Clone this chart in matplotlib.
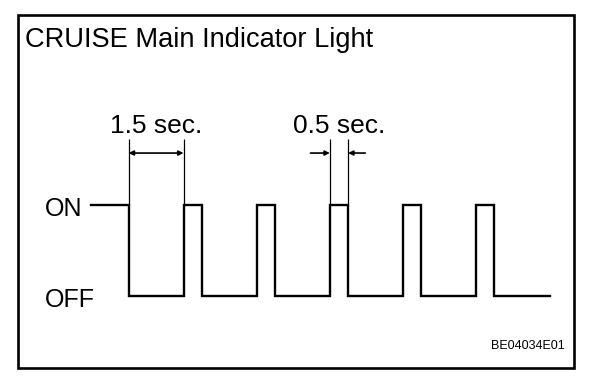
import matplotlib
matplotlib.use('Agg')
import matplotlib.pyplot as plt
from matplotlib.patches import Rectangle

# indicator light timing (seconds), t=0 is the first turn-off
tempos_troca = [0.0, 1.5, 2.0, 3.5, 4.0, 5.5, 6.0, 7.5, 8.0, 9.5, 10.0]
niveis = [1, 0, 1, 0, 1, 0, 1, 0, 1, 0, 1, 0]
t_inicio = -1.03
t_fim = 11.52

rotulos_nivel = ['OFF', 'ON']
titulo = 'CRUISE Main Indicator Light'
cota_longa = (0.0, 1.5, '1.5 sec.')
cota_curta = (5.5, 6.0, '0.5 sec.')
codigo = 'BE04034E01'

FONTE = ['Liberation Sans', 'DejaVu Sans']
W, H = 608, 382


def desenhar():
    plt.rcParams['font.family'] = FONTE
    fig = plt.figure(figsize=(W / 100, H / 100), dpi=100)

    # moldura
    fig.patches.append(Rectangle(
        (17.5 / W, (H - 368) / H), (573.5 - 17.5) / W, (368 - 14.5) / H,
        transform=fig.transFigure, fill=False, ec='black', lw=1.9
    ))

    fig.text(25 / W, (H - 47) / H, titulo, fontsize=19.6, va='baseline', ha='left')
    fig.text(565 / W, (H - 349) / H, codigo, fontsize=9, va='baseline', ha='right')

    ax = fig.add_axes([91 / W, (H - 296) / H, (550 - 91) / W, (296 - 205) / H])
    ax.set_xlim(t_inicio, t_fim)
    ax.set_ylim(0, 1)
    ax.axis('off')

    xs = [t_inicio] + tempos_troca + [t_fim]
    ys = niveis + [niveis[-1]]
    ax.step(xs, ys, where='post', color='black', lw=1.7, clip_on=False,
            solid_joinstyle='miter')

    for nivel, rotulo in enumerate(rotulos_nivel):
        ax.annotate(rotulo, (t_inicio, nivel), xytext=(-33, -8),
                    textcoords='offset points', ha='left', va='baseline',
                    fontsize=18, annotation_clip=False)

    y_ext = 1.725
    y_seta = 1.571
    y_txt = 1.79

    # cota de 1.5 s
    a, b, txt = cota_longa
    ax.vlines([a, b], 1, y_ext, color='black', lw=0.9, clip_on=False)
    ax.annotate('', xy=(b, y_seta), xytext=(a, y_seta), annotation_clip=False,
                arrowprops=dict(arrowstyle='<|-|>', mutation_scale=7, lw=1.2,
                                color='black', shrinkA=0, shrinkB=0))
    ax.text((a + b) / 2, y_txt, txt, ha='center', va='baseline', fontsize=19,
            clip_on=False)

    # cota de 0.5 s
    a, b, txt = cota_curta
    ax.vlines([a, b], 1, y_ext, color='black', lw=0.9, clip_on=False)
    ax.annotate('', xy=(a, y_seta), xytext=(a - 0.53, y_seta), annotation_clip=False,
                arrowprops=dict(arrowstyle='-|>', mutation_scale=7, lw=1.2,
                                color='black', shrinkA=0, shrinkB=0))
    ax.annotate('', xy=(b, y_seta), xytext=(b + 0.47, y_seta), annotation_clip=False,
                arrowprops=dict(arrowstyle='-|>', mutation_scale=7, lw=1.2,
                                color='black', shrinkA=0, shrinkB=0))
    ax.text((a + b) / 2, y_txt, txt, ha='center', va='baseline', fontsize=19,
            clip_on=False)

    fig.savefig('out.png', dpi=100)
    plt.close(fig)


if __name__ == '__main__':
    desenhar()
